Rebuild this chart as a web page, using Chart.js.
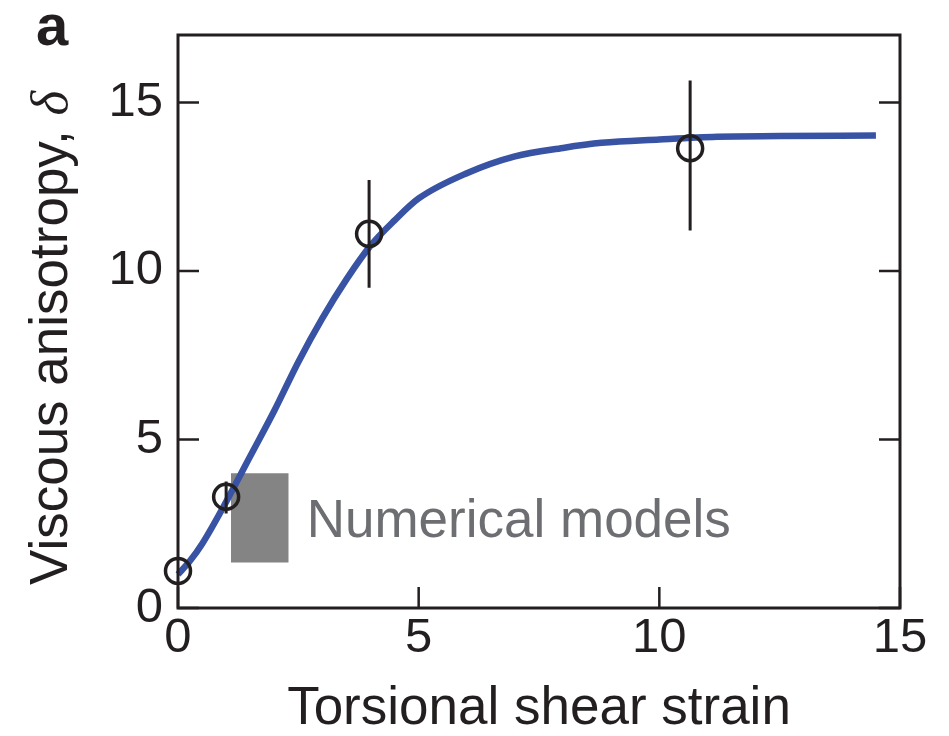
<!DOCTYPE html>
<html>
<head>
<meta charset="utf-8">
<title>Viscous anisotropy vs torsional shear strain</title>
<script src="https://cdn.jsdelivr.net/npm/chart.js@4.4.1/dist/chart.umd.min.js"></script>
<style>
  html, body { margin: 0; padding: 0; background: #ffffff; }
  canvas { display: block; }
</style>
</head>
<body>
<canvas id="c" width="949" height="736"></canvas>
<script>
// Model curve: viscous anisotropy as a function of torsional shear strain
const curveStrain = [0, 0.25, 0.5, 1.0, 1.5, 2.0, 2.5, 3.0, 3.5, 4.0, 4.5, 5.0, 6.0, 7.0, 8.0, 8.8, 10.0, 11.2, 12.5, 14.5];
const curveDelta  = [1.0, 1.4, 1.9, 3.15, 4.5, 5.85, 7.3, 8.6, 9.75, 10.75, 11.5, 12.15, 12.9, 13.4, 13.65, 13.8, 13.9, 13.98, 14.0, 14.02];

// Experimental measurements with their error ranges
const expStrain = [0, 1.0, 3.97, 10.64];
const expDelta  = [1.1, 3.3, 11.1, 13.64];
const expLow    = [1.1, 2.8, 9.5, 11.2];
const expHigh   = [1.1, 3.75, 12.7, 15.65];

// Range covered by the numerical models (strain span, anisotropy span)
const modelStrain = [1.1, 2.3];
const modelDelta  = [1.35, 4.0];
const modelLabel  = 'Numerical models';

// Axis ticks
const xTicks = [0, 5, 10, 15];
const yTicks = [0, 5, 10, 15];

const INK = '#231f20';
const FONT = '"Liberation Sans", Arial, Helvetica, sans-serif';
Chart.defaults.font.family = FONT;
Chart.defaults.color = INK;

// error bars as one broken polyline: lo -> hi, gap, ...
const errorPts = [];
expStrain.forEach((x, i) => {
  errorPts.push({ x: x, y: expLow[i] }, { x: x, y: expHigh[i] }, { x: x, y: null });
});

const framePlugin = {
  id: 'frame',
  afterDatasetsDraw(chart) {
    const { ctx, chartArea: a, scales: { x, y } } = chart;
    ctx.save();
    ctx.strokeStyle = INK;
    ctx.lineWidth = 3;
    ctx.lineJoin = 'miter';
    ctx.strokeRect(a.left, a.top, a.right - a.left, a.bottom - a.top);
    const tl = 21;
    ctx.lineWidth = 2.5;
    ctx.beginPath();
    y.ticks.forEach(t => {
      const py = y.getPixelForValue(t.value);
      ctx.moveTo(a.left, py); ctx.lineTo(a.left + tl, py);
      ctx.moveTo(a.right, py); ctx.lineTo(a.right - tl, py);
    });
    x.ticks.forEach(t => {
      const px = x.getPixelForValue(t.value);
      ctx.moveTo(px, a.bottom); ctx.lineTo(px, a.bottom - tl);
    });
    ctx.stroke();
    ctx.restore();
  }
};

const textPlugin = {
  id: 'texts',
  afterDraw(chart) {
    const { ctx, scales: { x, y } } = chart;
    ctx.save();
    // model label next to the shaded box
    ctx.fillStyle = '#6d6e71';
    ctx.font = '53px ' + FONT;
    ctx.textAlign = 'left';
    ctx.textBaseline = 'alphabetic';
    ctx.fillText(modelLabel, x.getPixelForValue(modelStrain[1]) + 18, y.getPixelForValue(2.1));

    // rotated y-axis title with an italic delta
    ctx.fillStyle = INK;
    ctx.translate(67, 585);
    ctx.rotate(-Math.PI / 2);
    const base = 'Viscous anisotropy, ';
    ctx.font = '53px ' + FONT;
    ctx.fillText(base, 0, 0);
    const w = ctx.measureText(base).width;
    ctx.font = 'italic 53px "Liberation Serif", "Times New Roman", serif';
    ctx.fillText('\u03b4', w, 0);
    ctx.restore();

    // panel letter
    ctx.save();
    ctx.fillStyle = INK;
    ctx.font = 'bold 58px ' + FONT;
    ctx.textBaseline = 'alphabetic';
    ctx.fillText('a', 36, 45);
    ctx.restore();
  }
};

new Chart(document.getElementById('c'), {
  type: 'scatter',
  data: {
    datasets: [
      {
        // markers
        data: expStrain.map((x, i) => ({ x: x, y: expDelta[i] })),
        showLine: false,
        pointStyle: 'circle',
        pointRadius: 12.5,
        pointBorderWidth: 3.5,
        pointBorderColor: INK,
        pointBackgroundColor: 'rgba(0,0,0,0)',
        clip: false,
        order: 1
      },
      {
        // error bars
        data: errorPts,
        showLine: true,
        spanGaps: false,
        borderColor: INK,
        borderWidth: 3,
        pointRadius: 0,
        clip: false,
        order: 2
      },
      {
        // model curve
        data: curveStrain.map((x, i) => ({ x: x, y: curveDelta[i] })),
        showLine: true,
        borderColor: '#3953a4',
        borderWidth: 6.5,
        pointRadius: 0,
        cubicInterpolationMode: 'monotone',
        clip: false,
        order: 3
      },
      {
        // shaded range, upper edge filled down to the lower edge
        data: modelStrain.map(x => ({ x: x, y: modelDelta[1] })),
        showLine: true,
        borderWidth: 0,
        borderColor: 'rgba(0,0,0,0)',
        backgroundColor: '#848484',
        fill: '+1',
        pointRadius: 0,
        order: 4
      },
      {
        data: modelStrain.map(x => ({ x: x, y: modelDelta[0] })),
        showLine: true,
        borderWidth: 0,
        borderColor: 'rgba(0,0,0,0)',
        pointRadius: 0,
        order: 5
      }
    ]
  },
  options: {
    responsive: false,
    animation: false,
    events: [],
    layout: { padding: { top: 35, right: 49, left: 0, bottom: 0 } },
    plugins: {
      legend: { display: false },
      tooltip: { enabled: false },
      filler: { propagate: false }
    },
    scales: {
      x: {
        type: 'linear',
        min: 0,
        max: 15,
        afterBuildTicks: s => { s.ticks = xTicks.map(v => ({ value: v })); },
        afterFit: s => { s.height = 128; },
        grid: { display: false, drawTicks: true, tickLength: 6 },
        border: { display: false },
        ticks: { font: { size: 49, lineHeight: 1 }, color: INK, padding: 0, maxRotation: 0, autoSkip: false },
        title: {
          display: true,
          text: 'Torsional shear strain',
          color: INK,
          font: { size: 53, lineHeight: 1 },
          padding: 0
        }
      },
      y: {
        type: 'linear',
        min: 0,
        max: 17,
        afterBuildTicks: s => { s.ticks = yTicks.map(v => ({ value: v })); },
        afterFit: s => { s.width = 178; },
        grid: { display: false, drawTicks: true, tickLength: 15 },
        border: { display: false },
        ticks: { font: { size: 49, lineHeight: 1 }, color: INK, padding: 0, autoSkip: false }
      }
    }
  },
  plugins: [framePlugin, textPlugin]
});
</script>
</body>
</html>
